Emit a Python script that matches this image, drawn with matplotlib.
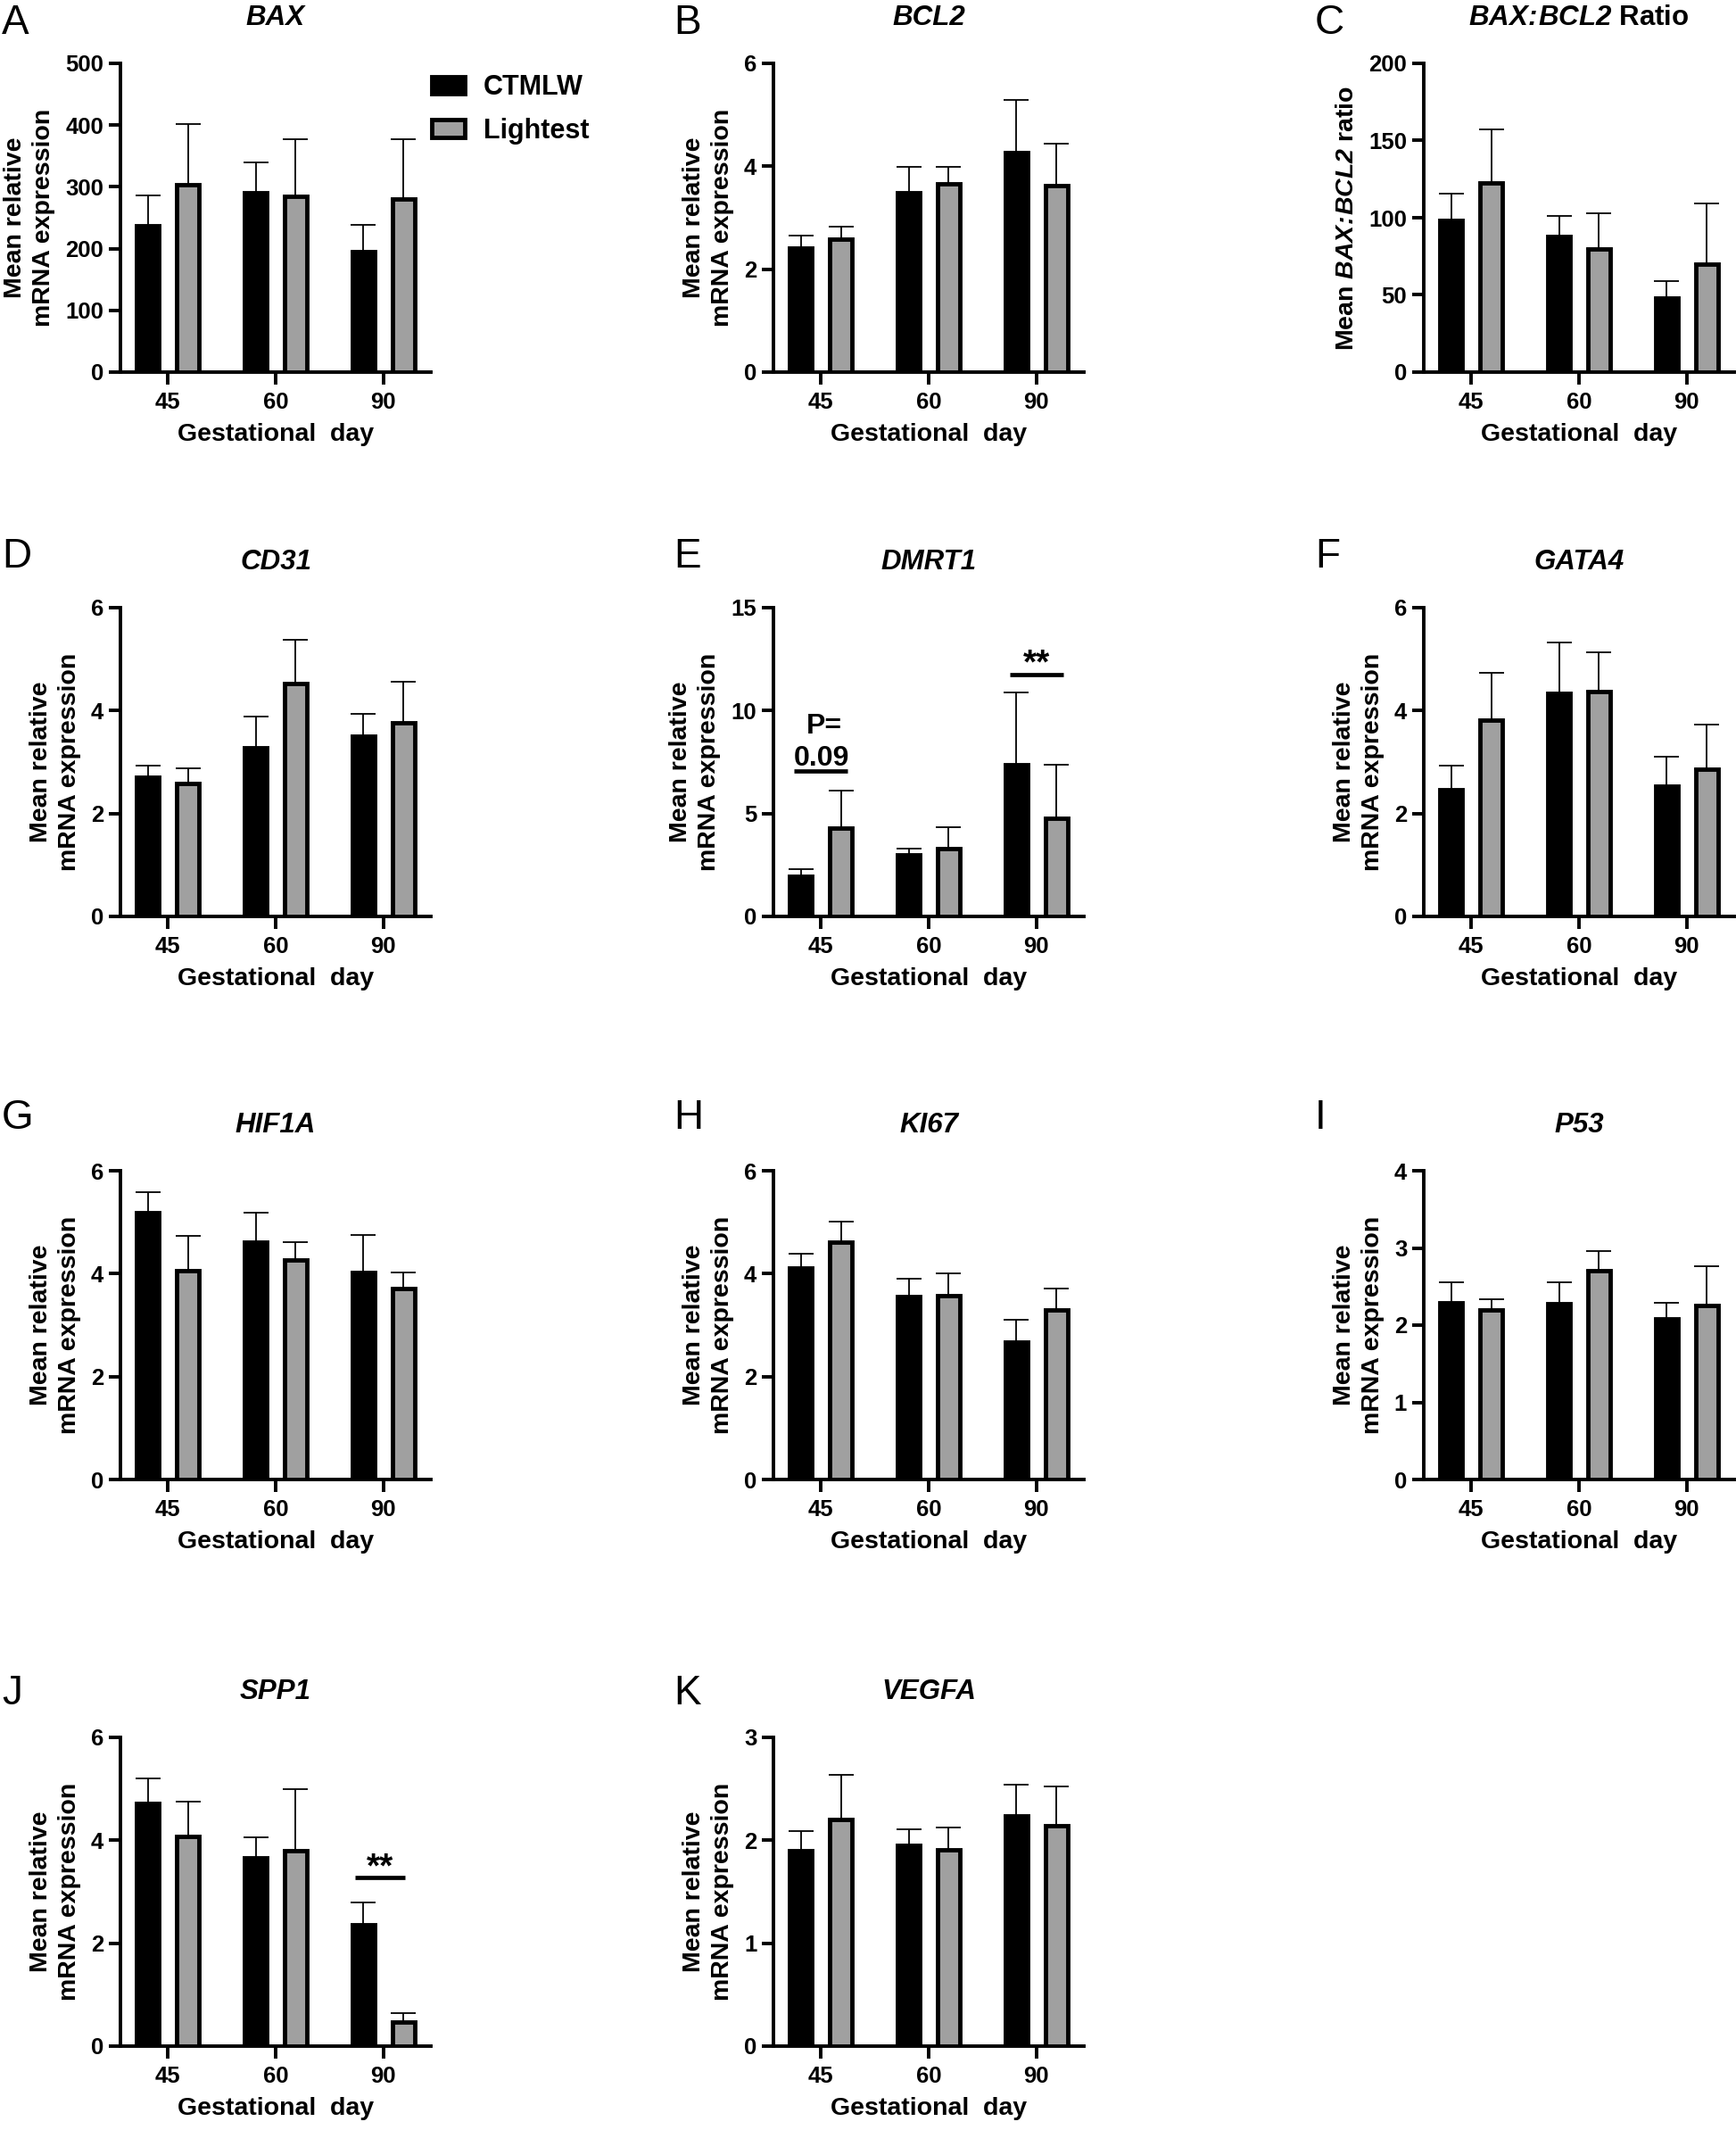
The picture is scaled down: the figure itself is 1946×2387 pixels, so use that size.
import numpy as np
import matplotlib
matplotlib.use("Agg")
import matplotlib.pyplot as plt
from matplotlib.patches import Patch

plt.rcParams['font.family'] = ['Liberation Sans', 'DejaVu Sans']
plt.rcParams['mathtext.fontset'] = 'custom'
plt.rcParams['mathtext.rm'] = 'Liberation Sans:italic:bold'
plt.rcParams['mathtext.it'] = 'Liberation Sans:italic:bold'
plt.rcParams['mathtext.bf'] = 'Liberation Sans:bold'

# ---------------- data ----------------
days = ['45', '60', '90']
groups = ['CTMLW', 'Lightest']

bax_ctmlw = [236.7, 290.0, 195.0]
bax_ctmlw_sem = [49.3, 49.0, 43.0]
bax_light = [304.0, 284.5, 280.0]
bax_light_sem = [98.0, 92.5, 97.0]

bcl2_ctmlw = [2.41, 3.49, 4.26]
bcl2_ctmlw_sem = [0.25, 0.49, 1.03]
bcl2_light = [2.59, 3.66, 3.62]
bcl2_light_sem = [0.23, 0.33, 0.82]

ratio_ctmlw = [98.0, 87.7, 47.7]
ratio_ctmlw_sem = [17.6, 13.3, 11.3]
ratio_light = [122.3, 79.8, 70.0]
ratio_light_sem = [34.7, 23.2, 39.0]

cd31_ctmlw = [2.70, 3.27, 3.50]
cd31_ctmlw_sem = [0.23, 0.61, 0.43]
cd31_light = [2.58, 4.53, 3.76]
cd31_light_sem = [0.30, 0.84, 0.80]

dmrt1_ctmlw = [1.97, 2.98, 7.37]
dmrt1_ctmlw_sem = [0.31, 0.30, 3.51]
dmrt1_light = [4.29, 3.28, 4.75]
dmrt1_light_sem = [1.81, 1.04, 2.62]

gata4_ctmlw = [2.47, 4.33, 2.53]
gata4_ctmlw_sem = [0.46, 0.99, 0.57]
gata4_light = [3.81, 4.37, 2.86]
gata4_light_sem = [0.92, 0.76, 0.87]

hif1a_ctmlw = [5.19, 4.61, 4.02]
hif1a_ctmlw_sem = [0.39, 0.57, 0.74]
hif1a_light = [4.06, 4.27, 3.71]
hif1a_light_sem = [0.68, 0.35, 0.32]

ki67_ctmlw = [4.11, 3.56, 2.67]
ki67_ctmlw_sem = [0.28, 0.34, 0.44]
ki67_light = [4.61, 3.57, 3.29]
ki67_light_sem = [0.41, 0.44, 0.42]

p53_ctmlw = [2.29, 2.28, 2.08]
p53_ctmlw_sem = [0.26, 0.27, 0.21]
p53_light = [2.20, 2.70, 2.25]
p53_light_sem = [0.13, 0.26, 0.51]

spp1_ctmlw = [4.71, 3.66, 2.36]
spp1_ctmlw_sem = [0.49, 0.39, 0.43]
spp1_light = [4.08, 3.80, 0.47]
spp1_light_sem = [0.67, 1.19, 0.17]

vegfa_ctmlw = [1.90, 1.95, 2.24]
vegfa_ctmlw_sem = [0.19, 0.16, 0.30]
vegfa_light = [2.20, 1.91, 2.14]
vegfa_light_sem = [0.44, 0.21, 0.38]

# significance annotations: (panel letter, day index, line y, label)
sig_marks = [
    ('E', 0, 7.06, 'P=\n0.09'),
    ('E', 2, 11.76, '**'),
    ('J', 2, 3.27, '**'),
]

ylabel_std = 'Mean relative\nmRNA expression'

panels = [
    ('A', 'BAX', bax_ctmlw, bax_ctmlw_sem, bax_light, bax_light_sem, 500, [0, 100, 200, 300, 400, 500], ylabel_std),
    ('B', 'BCL2', bcl2_ctmlw, bcl2_ctmlw_sem, bcl2_light, bcl2_light_sem, 6, [0, 2, 4, 6], ylabel_std),
    ('C', None, ratio_ctmlw, ratio_ctmlw_sem, ratio_light, ratio_light_sem, 200, [0, 50, 100, 150, 200],
     r'Mean $BAX\!:\!BCL2$ ratio'),
    ('D', 'CD31', cd31_ctmlw, cd31_ctmlw_sem, cd31_light, cd31_light_sem, 6, [0, 2, 4, 6], ylabel_std),
    ('E', 'DMRT1', dmrt1_ctmlw, dmrt1_ctmlw_sem, dmrt1_light, dmrt1_light_sem, 15, [0, 5, 10, 15], ylabel_std),
    ('F', 'GATA4', gata4_ctmlw, gata4_ctmlw_sem, gata4_light, gata4_light_sem, 6, [0, 2, 4, 6], ylabel_std),
    ('G', 'HIF1A', hif1a_ctmlw, hif1a_ctmlw_sem, hif1a_light, hif1a_light_sem, 6, [0, 2, 4, 6], ylabel_std),
    ('H', 'KI67', ki67_ctmlw, ki67_ctmlw_sem, ki67_light, ki67_light_sem, 6, [0, 2, 4, 6], ylabel_std),
    ('I', 'P53', p53_ctmlw, p53_ctmlw_sem, p53_light, p53_light_sem, 4, [0, 1, 2, 3, 4], ylabel_std),
    ('J', 'SPP1', spp1_ctmlw, spp1_ctmlw_sem, spp1_light, spp1_light_sem, 6, [0, 2, 4, 6], ylabel_std),
    ('K', 'VEGFA', vegfa_ctmlw, vegfa_ctmlw_sem, vegfa_light, vegfa_light_sem, 3, [0, 1, 2, 3], ylabel_std),
]

# ---------------- layout ----------------
W, H = 1946, 2387
fig = plt.figure(figsize=(W / 100, H / 100), dpi=100)

col_left = [135, 867, 1596]
row_top = [71, 681, 1312, 1947]
ax_w, ax_h = 348, 346
letter_x = [2, 755, 1474]
letter_base = [38, 636, 1265, 1910]

GREY = '#a0a0a0'
EDGE_LW = 3.5
SPINE_LW = 2.8
OFF = 0.185
BW = 0.205

axes = {}
for i, (letter, title, c_vals, c_sem, l_vals, l_sem, ymax, yticks, ylab) in enumerate(panels):
    r, c = divmod(i, 3)
    left = col_left[c]
    top = row_top[r]
    ax = fig.add_axes([left / W, 1 - (top + ax_h) / H, ax_w / W, ax_h / H])
    axes[letter] = ax
    x = np.arange(len(days))
    zeros = np.zeros(len(days))
    ax.errorbar(x - OFF, c_vals, yerr=[zeros, c_sem], fmt='none', ecolor='black',
                elinewidth=1.3, capsize=10, capthick=1.3, zorder=2, clip_on=False)
    ax.errorbar(x + OFF, l_vals, yerr=[zeros, l_sem], fmt='none', ecolor='black',
                elinewidth=1.3, capsize=10, capthick=1.3, zorder=2, clip_on=False)
    ax.bar(x - OFF, c_vals, width=BW, color='black', edgecolor='black', linewidth=EDGE_LW, zorder=3)
    ax.bar(x + OFF, l_vals, width=BW, color=GREY, edgecolor='black', linewidth=EDGE_LW, zorder=3)

    ax.set_xlim(-0.44, 2.44)
    ax.set_ylim(0, ymax)
    ax.set_xticks(x)
    ax.set_xticklabels(days)
    ax.set_yticks(yticks)
    ax.set_yticklabels([str(t) for t in yticks])
    for s in ['top', 'right']:
        ax.spines[s].set_visible(False)
    for s in ['left', 'bottom']:
        ax.spines[s].set_linewidth(SPINE_LW)
    ax.tick_params(axis='x', length=10, width=SPINE_LW, pad=6, labelsize=18.5)
    ax.tick_params(axis='y', length=9.5, width=SPINE_LW, pad=4, labelsize=18.5)
    for lab in ax.get_xticklabels() + ax.get_yticklabels():
        lab.set_fontweight('bold')
    ax.set_xlabel('Gestational  day', fontsize=20.5, fontweight='bold', labelpad=8)
    ax.set_ylabel(ylab, fontsize=20.5, fontweight='bold', labelpad=8, linespacing=1.3)

    if title is not None:
        ax.text(0.5, 1 + 43 / ax_h, title, transform=ax.transAxes, ha='center', va='baseline',
                fontsize=22.5, fontweight='bold', fontstyle='italic')
    else:
        ax.text(0.5, 1 + 43 / ax_h, r'$BAX\!:\!BCL2$ Ratio', transform=ax.transAxes,
                ha='center', va='baseline', fontsize=22.5, fontweight='bold')

    fig.text(letter_x[c] / W, 1 - letter_base[r] / H, letter, fontsize=33, va='baseline', ha='left')

# significance bars
for letter, di, ly, lab in sig_marks:
    ax = axes[letter]
    if letter == 'J':
        x0, x1 = di - 0.26, di + 0.20
    else:
        x0, x1 = di - 0.25, di + 0.25
    ax.plot([x0, x1], [ly, ly], color='black', lw=3.4, solid_capstyle='butt', zorder=4, clip_on=False)
    xc = (x0 + x1) / 2
    if lab == '**':
        ax.annotate('**', xy=(xc, ly), xytext=(0, 1), textcoords='offset points',
                    ha='center', va='baseline', fontsize=28, fontweight='bold')
    else:
        top_line, bottom_line = lab.split('\n')
        ax.annotate(bottom_line, xy=(di + 0.01, ly), xytext=(0, 4.5), textcoords='offset points',
                    ha='center', va='baseline', fontsize=23, fontweight='bold')
        ax.annotate(top_line, xy=(di + 0.03, ly), xytext=(0, 30.5), textcoords='offset points',
                    ha='center', va='baseline', fontsize=23, fontweight='bold')

# legend
handles = [Patch(facecolor='black', edgecolor='black', linewidth=EDGE_LW),
           Patch(facecolor=GREY, edgecolor='black', linewidth=EDGE_LW)]
fig.legend(handles, groups, loc='upper left', bbox_to_anchor=(484 / W, 1 - 83 / H),
           frameon=False, prop={'size': 22, 'weight': 'bold'}, handlelength=1.2,
           handleheight=0.6, handletextpad=0.69, labelspacing=0.62, borderpad=0,
           borderaxespad=0)

fig.savefig('out.png', dpi=100)
